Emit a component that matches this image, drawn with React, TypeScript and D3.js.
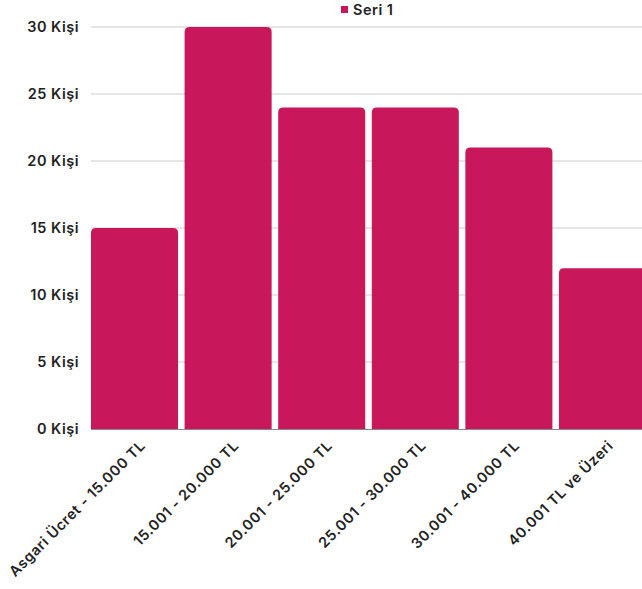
import React from "react";
import * as d3 from "d3";

const categories = [
  "Asgari Ücret - 15.000 TL",
  "15.001 - 20.000 TL",
  "20.001 - 25.000 TL",
  "25.001 - 30.000 TL",
  "30.001 - 40.000 TL",
  "40.001 TL ve Üzeri",
];
const values = [15, 30, 24, 24, 21, 12];
const yTicks = [0, 5, 10, 15, 20, 25, 30];
const seriesName = "Seri 1";

const W = 642;
const H = 589;
const COLOR = "#c8175a";
const FONT = "Inter, 'DejaVu Sans', sans-serif";

function topRoundedRect(x: number, y: number, w: number, h: number, r: number) {
  const rr = Math.min(r, w / 2, h);
  return `M${x},${y + h}V${y + rr}Q${x},${y} ${x + rr},${y}H${x + w - rr}Q${x + w},${y} ${x + w},${y + rr}V${y + h}Z`;
}

export default function App() {
  const left = 91;
  const right = 646;
  const x = d3.scaleBand<string>().domain(categories).range([left, right]).paddingInner(0.07).paddingOuter(0.0);
  const y = d3.scaleLinear().domain([0, 30]).range([429, 27]);

  return (
    <svg width={W} height={H} style={{ position: "absolute", left: 0, top: 0, background: "#fff" }} fontFamily={FONT}>
      {yTicks.map((t) => (
        <g key={t}>
          {t > 0 && <line x1={left} x2={W} y1={y(t)} y2={y(t)} stroke="#cccccc" strokeWidth={1} />}
          <text x={79} y={y(t)} dy="0.35em" textAnchor="end" fontSize={14.5} fontWeight={600} letterSpacing={0.5} fill="#222">
            {`${t} Kişi`}
          </text>
        </g>
      ))}
      <line x1={left} x2={W} y1={y(0) + 0.5} y2={y(0) + 0.5} stroke="#888" strokeWidth={1} />
      {categories.map((c, i) => (
        <path
          key={c}
          d={topRoundedRect(x(c)!, y(values[i]), x.bandwidth(), y(0) - y(values[i]), 5)}
          fill={COLOR}
        />
      ))}
      {categories.map((c) => {
        const cx = x(c)! + x.bandwidth() / 2 + 8;
        const cy = 443;
        return (
          <text
            key={c}
            transform={`translate(${cx},${cy}) rotate(-45)`}
            textAnchor="end"
            dy="0.35em"
            fontSize={14.5}
            fontWeight={600}
            letterSpacing={0.6}
            fill="#222"
          >
            {c}
          </text>
        );
      })}
      <rect x={341} y={6} width={7} height={7} fill={COLOR} />
      <text x={353} y={10} dy="0.35em" fontSize={14.5} fontWeight={600} letterSpacing={0.5} fill="#222">
        {seriesName}
      </text>
    </svg>
  );
}
